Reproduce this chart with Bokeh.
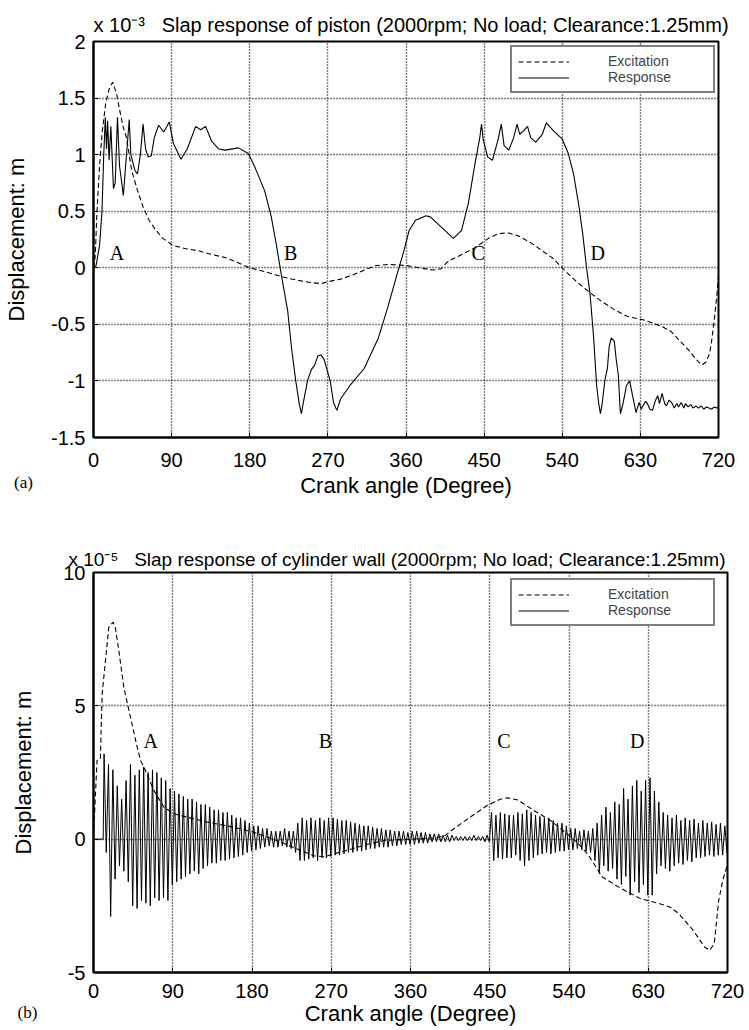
from bokeh.plotting import figure
from bokeh.models import Label, Legend, LegendItem, FixedTicker, Range1d
from bokeh.layouts import column
from bokeh.embed import file_html
from bokeh.resources import INLINE

# ---------------- data ----------------
x_ticks = [0, 90, 180, 270, 360, 450, 540, 630, 720]

# (a) piston, units of 1e-3 m
a_exc_deg = [0, 2, 4, 7, 10, 14, 18, 22, 26.5, 30, 34, 38, 44, 50, 57, 64, 72, 80, 91, 105,
             121, 135, 152, 165, 180, 200, 220, 235, 250, 262, 272, 285, 300, 315, 326, 340,
             360, 375, 391, 400, 409, 425, 440, 455, 466, 477, 490, 504, 517, 530, 541, 556,
             572, 586, 600, 615, 633, 645, 655, 665, 676, 686, 693, 701, 706, 710, 712, 715,
             718, 720]
a_exc_val = [0.0, 0.1, 0.5, 0.9, 1.2, 1.45, 1.58, 1.64, 1.54, 1.4, 1.25, 1.15, 0.86, 0.7, 0.54,
             0.42, 0.33, 0.26, 0.2, 0.17, 0.15, 0.12, 0.09, 0.05, 0.0, -0.04, -0.085, -0.11,
             -0.13, -0.14, -0.12, -0.1, -0.06, -0.01, 0.02, 0.03, 0.02, 0.0, -0.02, -0.01, 0.06,
             0.12, 0.18, 0.26, 0.3, 0.31, 0.28, 0.22, 0.15, 0.08, -0.01, -0.12, -0.22, -0.3,
             -0.37, -0.43, -0.46, -0.49, -0.52, -0.56, -0.65, -0.73, -0.8, -0.86, -0.83, -0.75,
             -0.65, -0.47, -0.25, -0.08]

a_resp_deg = [0, 3, 7, 9.8, 11.7, 13.6, 15, 16.3, 18, 20, 23, 25, 27.6, 30, 34.4, 37, 41.2, 43,
              47.7, 50.7, 54, 57.1, 60, 63, 66.6, 70, 75, 81, 87.4, 92, 100.7, 108, 117.7, 123.4,
              129.1, 136, 144.2, 151.8, 166.9, 178.3, 185.9, 197.2, 204.8, 210.5, 216.1, 223.7,
              228, 233, 237, 239.5, 241.5, 246.5, 251, 254.7, 258.5, 262, 265.6, 269, 272.6,
              276.5, 280.3, 284.6, 295.5, 311.8, 328.2, 339, 350, 358, 363.6, 371, 383, 388,
              414.6, 424, 431.8, 439.5, 445, 447, 449, 454, 459.5, 466, 469.8, 473, 478.5, 484,
              488, 491, 495.4, 500, 503.6, 509.5, 517, 521.6, 530, 539.8, 547, 553, 558.7, 563.6,
              568, 572, 576, 579.6, 582, 584, 586, 589, 592, 594, 596.5, 600, 602, 604.6, 607,
              610, 614, 617.7, 621, 625, 628.5, 631, 633, 636, 638, 641, 644, 647, 650, 652, 655,
              658, 660, 663, 666, 669, 672, 674, 677, 680, 682, 685, 688, 691, 694, 697, 700,
              703, 706, 709, 712, 715, 718, 720]
a_resp_val = [0.0, 0.02, 0.2, 0.5, 0.98, 1.33, 1.05, 1.3, 0.95, 1.25, 0.7, 0.75, 1.33, 0.9, 0.64,
              0.9, 1.31, 1.0, 0.86, 0.83, 1.0, 1.27, 1.05, 0.98, 0.99, 1.15, 1.26, 1.2, 1.29, 1.1,
              0.96, 1.05, 1.25, 1.22, 1.25, 1.12, 1.05, 1.04, 1.06, 1.01, 0.89, 0.68, 0.45, 0.21,
              -0.05, -0.38, -0.7, -1.0, -1.2, -1.29, -1.2, -1.0, -0.9, -0.86, -0.78, -0.77, -0.81,
              -0.9, -1.0, -1.19, -1.26, -1.16, -1.04, -0.89, -0.62, -0.35, -0.05, 0.16, 0.33,
              0.42, 0.46, 0.45, 0.26, 0.33, 0.57, 0.92, 1.15, 1.27, 1.13, 0.98, 0.95, 1.13, 1.27,
              1.08, 1.04, 1.15, 1.27, 1.18, 1.21, 1.25, 1.15, 1.11, 1.18, 1.28, 1.21, 1.14, 1.01,
              0.83, 0.57, 0.3, 0.0, -0.23, -0.6, -1.04, -1.2, -1.29, -1.2, -1.0, -0.89, -0.7,
              -0.62, -0.65, -0.8, -0.95, -1.29, -1.2, -1.04, -1.0, -1.13, -1.28, -1.19, -1.25,
              -1.22, -1.18, -1.2, -1.25, -1.26, -1.18, -1.13, -1.2, -1.11, -1.2, -1.22, -1.17,
              -1.19, -1.24, -1.2, -1.23, -1.19, -1.24, -1.2, -1.23, -1.21, -1.24, -1.22, -1.24,
              -1.22, -1.25, -1.23, -1.24, -1.25, -1.23, -1.24, -1.23]

a_y_ticks = [-1.5, -1, -0.5, 0, 0.5, 1, 1.5, 2]
a_y_labels = ["-1.5", "-1", "-0.5", "0", "0.5", "1", "1.5", "2"]

# (b) cylinder wall, units of 1e-5 m
b_exc_deg = [0, 2, 4, 7.8, 9.8, 13.6, 17.4, 22.3, 25, 28.8, 34.4, 42, 49.6, 53.4, 59, 68.5, 80,
             91.3, 106, 129, 159, 182, 208, 235, 250, 262, 273, 290, 310, 330, 360, 390, 400,
             409, 428, 447, 462, 470, 481, 500, 519, 538, 550, 561, 578, 599, 621, 643, 655,
             665, 681, 694, 700, 705, 710, 714.6, 719, 720]
b_exc_val = [0.1, 1.5, 2.95, 3.0, 5.45, 6.7, 7.95, 8.14, 7.9, 7.07, 5.7, 4.57, 3.45, 2.95, 2.58,
             1.83, 1.2, 0.95, 0.83, 0.64, 0.45, 0.26, -0.05, -0.42, -0.62, -0.66, -0.55, -0.4,
             -0.2, -0.05, 0.0, 0.05, 0.15, 0.39, 0.83, 1.26, 1.5, 1.55, 1.48, 1.08, 0.7, 0.2,
             -0.15, -0.55, -1.42, -1.85, -2.23, -2.42, -2.55, -2.8, -3.42, -4.05, -4.17, -3.9,
             -2.3, -1.55, -1.05, -0.95]

# response: one upper and one lower peak per 5-degree cycle, first cycle at 12 deg
b_resp_start = 12
b_resp_cycle = 5
b_resp_hi = [3.2, 2.8, 2.6, 2.0, 1.5, 2.2, 2.8, 2.4, 2.6, 2.7, 2.5, 2.6, 2.5, 2.3, 2.2, 1.9,
             1.8, 1.7, 1.6, 1.5, 1.5, 1.4, 1.3, 1.3, 1.2, 1.1, 1.1, 1.0, 1.0, 0.9, 0.8, 0.8, 0.7, 0.6,
             0.5, 0.5, 0.4, 0.4, 0.3, 0.3, 0.3, 0.4, 0.3, 0.3, 0.6, 0.8, 0.7, 0.8, 0.7, 0.8, 0.7, 0.8,
             0.8, 0.75, 0.7, 0.7, 0.65, 0.6, 0.55, 0.5, 0.5, 0.45, 0.4, 0.4, 0.35, 0.35, 0.3, 0.3, 0.3, 0.25,
             0.3, 0.3, 0.25, 0.25, 0.2, 0.2, 0.2, 0.15, 0.15, 0.15, 0.1, 0.1, 0.1, 0.1, 0.15, 0.1, 0.1, 0.15,
             1.0, 0.9, 1.0, 0.95, 0.9, 0.9, 1.0, 0.95, 1.1, 1.0, 0.9, 0.85, 0.8, 0.8, 0.7, 0.6, 0.6, 0.5,
             0.4, 0.4, 0.3, 0.35, 0.3, 0.4, 0.6, 0.9, 1.2, 1.0, 1.4, 1.3, 1.9, 1.5, 2.0, 2.2, 1.8, 2.2,
             2.3, 1.8, 1.4, 1.0, 0.9, 0.8, 0.9, 0.7, 0.8, 0.7, 0.75, 0.6, 0.7, 0.6, 0.65, 0.55, 0.6, 0.5]
b_resp_lo = [-0.5, -2.9, -1.5, -1.0, -1.2, -1.6, -2.5, -2.6, -2.3, -2.4, -2.5, -2.2, -2.3, -2.2, -2.3, -1.7,
             -1.6, -1.5, -1.4, -1.3, -1.2, -1.3, -1.1, -1.0, -0.9, -0.9, -0.8, -0.8, -0.75, -0.7, -0.65, -0.6, -0.5, -0.45,
             -0.4, -0.35, -0.3, -0.25, -0.3, -0.3, -0.25, -0.3, -0.35, -0.5, -0.8, -0.8, -0.75, -0.7, -0.8, -0.7, -0.7, -0.65,
             -0.6, -0.6, -0.55, -0.5, -0.5, -0.45, -0.45, -0.4, -0.35, -0.35, -0.3, -0.3, -0.3, -0.25, -0.25, -0.2, -0.2, -0.2,
             -0.2, -0.15, -0.15, -0.15, -0.1, -0.1, -0.1, -0.1, -0.1, -0.05, -0.05, -0.05, -0.05, -0.05, -0.05, -0.05, -0.1, -0.1,
             -0.8, -0.7, -0.75, -0.7, -0.7, -0.6, -0.8, -1.0, -0.8, -0.7, -0.6, -0.55, -0.5, -0.55, -0.5, -0.45, -0.45, -0.4,
             -0.4, -0.35, -0.4, -0.45, -0.5, -0.8, -1.3, -1.0, -1.2, -1.1, -1.5, -1.7, -1.4, -2.1, -1.6, -2.0, -1.7, -2.1,
             -2.1, -1.3, -1.0, -1.1, -1.2, -1.0, -0.9, -0.95, -0.8, -0.85, -0.7, -0.7, -0.65, -0.6, -0.65, -0.6, -0.6, -0.55]

b_y_ticks = [-5, 0, 5, 10]
b_y_labels = ["-5", "0", "5", "10"]

# ---------------- build ----------------
b_resp_deg = [0, 11]
b_resp_val = [0.0, 0.0]
for k, (hi, lo) in enumerate(zip(b_resp_hi, b_resp_lo)):
    a = b_resp_start + b_resp_cycle * k
    b_resp_deg += [a, a + b_resp_cycle / 2]
    b_resp_val += [hi, lo]

SANS = "Liberation Sans"
SERIF = "Liberation Serif"
NB = "\u00a0"


def make_fig(width, height, b_top, b_bottom, b_right, yr, yticks, ylabels, xl_standoff,
             tl_standoff, yl_standoff, title, t_size, t_offset, t_standoff):
    p = figure(width=width, height=height, output_backend="svg", toolbar_location=None,
               x_range=Range1d(0, 720), y_range=Range1d(*yr),
               min_border_left=93, min_border_right=b_right, min_border_top=b_top,
               min_border_bottom=b_bottom, background_fill_color="white",
               border_fill_color="white")
    p.title.text = title
    p.title.align = "left"
    p.title.offset = t_offset
    p.title.standoff = t_standoff
    p.title.text_font = SANS
    p.title.text_font_size = t_size
    p.title.text_font_style = "normal"
    p.title.text_color = "black"
    p.outline_line_color = "black"
    p.outline_line_width = 2
    p.xaxis.ticker = FixedTicker(ticks=x_ticks)
    p.yaxis.ticker = FixedTicker(ticks=yticks)
    p.yaxis.major_label_overrides = {t: s for t, s in zip(yticks, ylabels)}
    for ax in (p.xaxis, p.yaxis):
        ax.axis_line_width = 2
        ax.axis_line_color = "black"
        ax.major_tick_in = 5
        ax.major_tick_out = 0
        ax.major_tick_line_color = "black"
        ax.minor_tick_line_color = None
        ax.major_label_text_font = SANS
        ax.major_label_text_font_size = "20px"
        ax.major_label_text_color = "black"
        ax.axis_label_text_font = SANS
        ax.axis_label_text_font_size = "22px"
        ax.axis_label_text_font_style = "normal"
        ax.axis_label_text_color = "black"
    p.xaxis.axis_label = "Crank angle (Degree)"
    p.yaxis.axis_label = "Displacement: m"
    p.xaxis.major_label_standoff = tl_standoff
    p.xaxis.axis_label_standoff = xl_standoff
    p.yaxis.major_label_standoff = 8
    p.yaxis.axis_label_standoff = yl_standoff
    for g in (p.xgrid, p.ygrid):
        g.grid_line_color = "black"
        g.grid_line_dash = "1 2"
        g.grid_line_width = 1.4
        g.grid_line_alpha = 1
    return p


def add_legend(p, r_exc, r_resp, loc):
    leg = Legend(items=[LegendItem(label="Excitation", renderers=[r_exc]),
                        LegendItem(label="Response", renderers=[r_resp])],
                 location=loc, border_line_color="black", border_line_width=2,
                 padding=6, spacing=0, label_height=13, glyph_height=13, glyph_width=51,
                 label_standoff=39, label_width=99, margin=0,
                 label_text_font=SANS, label_text_font_size="14px",
                 background_fill_color="white", background_fill_alpha=1)
    p.add_layout(leg)


def add_text(p, x, y, t, font=SANS, size="19px", align="left", baseline="alphabetic"):
    p.add_layout(Label(x=x, y=y, text=t, text_font=font, text_font_size=size,
                       text_align=align, text_baseline=baseline, text_color="black"))


def add_corner_tag(p, cx, cy, t, side):
    # placed in a side panel, in canvas pixels, so it is not clipped to the frame
    p.add_layout(Label(x=cx, y=cy, text=t, x_units="canvas", y_units="canvas",
                       text_font=SERIF, text_font_size="17px", text_align="center",
                       text_baseline="middle", text_color="black"), side)


# ----- (a) -----
title_a = "x 10\u207b\u00b3" + NB * 3 + "Slap response of piston (2000rpm; No load; Clearance:1.25mm)"
p1 = make_fig(740, 522, 41, 85, 13, (-1.5, 2), a_y_ticks, a_y_labels, 3, 15, 19,
              title_a, "20px", 0, 11)
e1 = p1.line(a_exc_deg, a_exc_val, line_color="black", line_width=1.1, line_dash="5 3")
r1 = p1.line(a_resp_deg, a_resp_val, line_color="black", line_width=1.1)
add_legend(p1, e1, r1, (417, 344))
add_corner_tag(p1, 23, 482, "(a)", "below")
for t, xd in zip(["A", "B", "C", "D"], [27, 227, 443, 581]):
    add_text(p1, xd, 0.13, t, font=SERIF, size="20px", align="center", baseline="middle")

# ----- (b) -----
title_b = "x 10\u207b\u2075" + NB * 3 + "Slap response of cylinder wall (2000rpm; No load; Clearance:1.25mm)"
p2 = make_fig(749, 508, 50, 58, 22, (-5, 10), b_y_ticks, b_y_labels, 0, 11, 24,
              title_b, "19px", -25, 6)
e2 = p2.line(b_exc_deg, b_exc_val, line_color="black", line_width=1.1, line_dash="5 3")
r2 = p2.line(b_resp_deg, b_resp_val, line_color="black", line_width=1.0)
add_legend(p2, e2, r2, (417, 346))
add_corner_tag(p2, 27, 490, "(b)", "right")
for t, xd in zip(["A", "B", "C", "D"], [65, 263.5, 466, 617.5]):
    add_text(p2, xd, 3.7, t, font=SERIF, size="20px", align="center", baseline="middle")

layout = column(p1, p2, spacing=0)
open("out.html", "w").write(file_html(layout, INLINE))
